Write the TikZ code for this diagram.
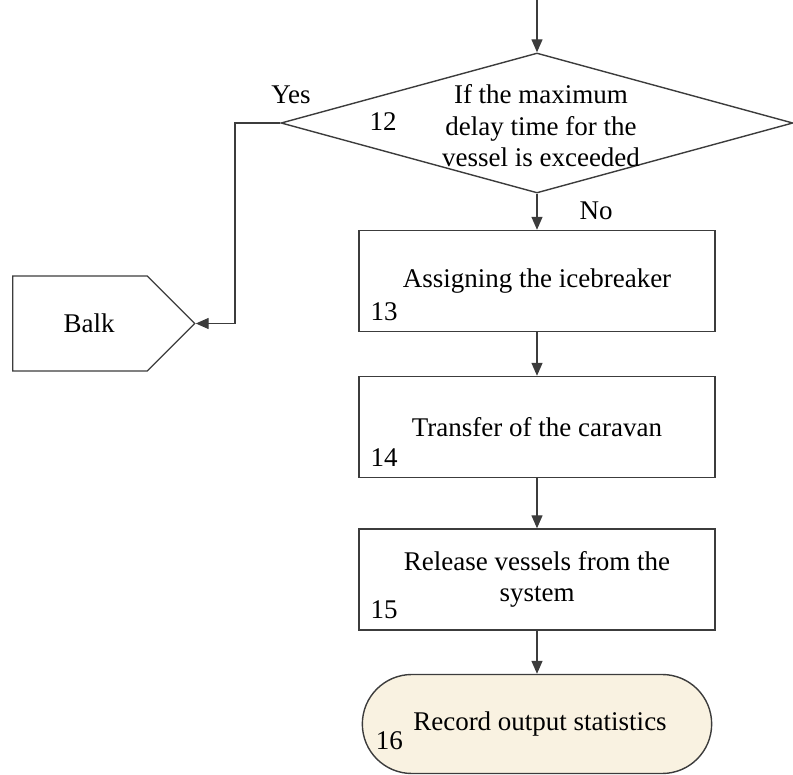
\documentclass[tikz,border=0pt]{standalone}
\usepackage{fontspec}
\setmainfont{Liberation Serif}
\usetikzlibrary{positioning,shapes.geometric,shapes.symbols,shapes.misc,arrows.meta}
\definecolor{termfill}{RGB}{249,242,225}
\definecolor{edgegray}{RGB}{60,60,60}
\tikzset{process/.style = {draw=edgegray, rectangle, line width=1.4pt, minimum width=356pt, minimum height=101pt, align=center}}
\tikzset{decision/.style = {draw=edgegray, diamond, line width=1.4pt, minimum width=512pt, minimum height=140pt, inner sep=0pt}}
\tikzset{terminal/.style = {draw=edgegray, rounded rectangle, line width=1.4pt, fill=termfill, minimum width=356pt, minimum height=99pt}}
\tikzset{exitbox/.style = {draw=edgegray, signal, signal to=east, signal pointer angle=90, line width=1.4pt, minimum width=182pt, minimum height=95pt}}
\tikzset{tag/.style = {inner sep=0pt}}
\tikzset{arr/.style = {-{Triangle[length=13pt,width=11pt]}, line width=1.4pt, draw=edgegray}}

\begin{document}
\begin{tikzpicture}[x=1pt, y=-1pt, on grid, font=\fontsize{27}{31.5}\selectfont]
  \useasboundingbox (0,0) rectangle (793,775);
  \node [decision] (dec) at (537,123) {};
  \node [align=center] (dectext) at (541,126) {If the maximum\\delay time for the\\vessel is exceeded};
  \node [tag] (n12) at (383,122) {12};
  \node [tag] (yes) at (291,95) {Yes};
  \node [tag] (no) at (596,211) {No};
  \node [process, below=158pt of dec] (assign) {Assigning the icebreaker};
  \node [process, below=146pt of assign] (transfer) {Transfer of the caravan};
  \node [process, below=152.5pt of transfer] (release) {Release vessels from the\\system};
  \node [terminal, below=144.5pt of release] (record) {\hspace{6pt}Record output statistics};
  \node [exitbox] (balk) at (80,323.5) {\hspace{18pt}Balk};
  % block numbers
  \node [tag, anchor=south west] (n13) at ([shift={(12pt,11pt)}]assign.south west) {13};
  \node [tag, anchor=south west] (n14) at ([shift={(12pt,11pt)}]transfer.south west) {14};
  \node [tag, anchor=south west] (n15) at ([shift={(12pt,12pt)}]release.south west) {15};
  \node [tag, anchor=south west] (n16) at ([shift={(14pt,-26pt)}]record.west) {16};
  % connectors
  \coordinate (start) at (537,0);
  \coordinate (bend) at (235,0);
  \draw [arr] (start) -- (dec.north);
  \draw [arr] (dec.south) -- (assign.north);
  \draw [arr] (assign.south) -- (transfer.north);
  \draw [arr] (transfer.south) -- (release.north);
  \draw [arr] (release.south) -- (record.north);
  \draw [arr] (dec.west) -- (dec.west -| bend) |- (balk.east);
\end{tikzpicture}
\end{document}
